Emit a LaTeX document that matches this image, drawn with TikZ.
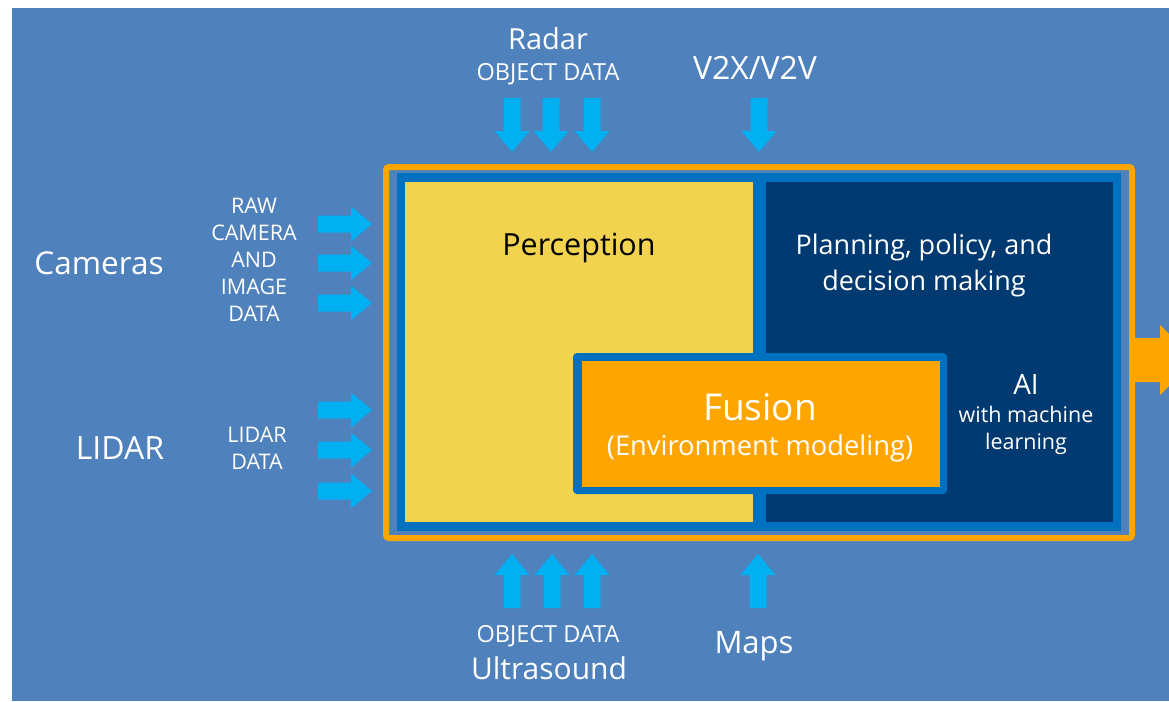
\documentclass[tikz,border=0pt]{standalone}
\usepackage{fontspec}
\setmainfont{Open Sans}
\definecolor{bgblue}{HTML}{4F81BD}
\definecolor{frameblue}{HTML}{0070C0}
\definecolor{navy}{HTML}{003A70}
\definecolor{percyellow}{HTML}{F2D34F}
\definecolor{fuseorange}{HTML}{FFA500}
\definecolor{feedblue}{HTML}{00B0F0}
% font size and line distance, in pt
\newcommand{\fsz}[2]{\fontsize{#1}{#2}\selectfont}
\tikzset{
  panel/.style={inner sep=0pt, outer sep=0pt},
  label/.style={text=white, inner sep=0pt},
  pics/feed/.style={code={
    \fill[feedblue] (0,-8.5) -- (33,-8.5) -- (33,-17.5) -- (54,0)
      -- (33,17.5) -- (33,8.5) -- (0,8.5) -- cycle;}}
}
\begin{document}
\begin{tikzpicture}[x=1pt,y=-1pt]
\useasboundingbox (0,0) rectangle (1169,701);
\clip (0,0) rectangle (1169,701);
\fill[white] (0,0) rectangle (1169,701);
\fill[bgblue] (12,8) rectangle (1169,701);

% output arrow leaving the processing block
\coordinate (outtail) at (1130,360);
\fill[fuseorange] (outtail) ++(0,-22) -- ++(30,0) -- ++(0,-13) -- ++(35,35)
  -- ++(-35,35) -- ++(0,-13) -- ++(-30,0) -- cycle;

% processing block
\node[panel, draw=fuseorange, line width=6pt, rounded corners=3pt,
      minimum width=746pt, minimum height=371pt] (outer) at (759,352.5) {};
\node[panel, fill=frameblue, minimum width=724pt, minimum height=358pt]
      (frame) at (759,352) {};
\node[panel, fill=percyellow, minimum width=348pt, minimum height=340pt]
      (perc) at (579,352) {};
\node[panel, fill=navy, minimum width=347pt, minimum height=340pt]
      (plan) at (939.5,352) {};
\node[panel, fill=frameblue, rounded corners=4pt, minimum width=374pt,
      minimum height=141pt] (fusframe) at (760,423.5) {};
\node[panel, fill=fuseorange, minimum width=358pt, minimum height=126pt]
      (fusion) at (761,424) {};

% block texts
\node[inner sep=0pt, anchor=base, font=\fsz{30.5}{36}] (perct) at (579,255) {Perception};
\node[label, align=center, font=\fsz{27}{36}] (plant) at (924,265)
  {Planning, policy, and\\decision making};
\node[label, anchor=base, font=\fsz{37}{44}] (fust) at (760,420) {Fusion};
\node[label, anchor=base, font=\fsz{27.3}{33}] (envt) at (760,455) {(Environment modeling)};
\node[label, anchor=base, font=\fsz{28}{34}] (ait) at (1026,394) {AI};
\node[label, align=center, font=\fsz{21.5}{27}] (mlt) at (1026,430.5)
  {with machine\\learning};

% sources
\node[label, anchor=base, font=\fsz{31.5}{38}] (cam) at (99,274) {Cameras};
\node[label, anchor=base, font=\fsz{32}{38}] (lidar) at (120,459) {LIDAR};
\node[label, align=center, font=\fsz{21.5}{27}] (camdata) at (254,260)
  {RAW\\CAMERA\\AND\\IMAGE\\DATA};
\node[label, align=center, font=\fsz{21.5}{27}] (lidardata) at (257,448.5)
  {LIDAR\\DATA};
\node[label, anchor=base, font=\fsz{29}{35}] (radar) at (548,49) {Radar};
\node[label, anchor=base, font=\fsz{23.5}{28}] (radardata) at (548,81) {OBJECT DATA};
\node[label, anchor=base, font=\fsz{32}{38}] (v2x) at (755,79) {V2X/V2V};
\node[label, anchor=base, font=\fsz{23.5}{28}] (usdata) at (548,642) {OBJECT DATA};
\node[label, anchor=base, font=\fsz{30}{36}] (us) at (549,679) {Ultrasound};
\node[label, anchor=base, font=\fsz{31}{37}] (maps) at (754,653) {Maps};

% incoming data arrows
\pic (cam1) at (318,224) {feed};
\pic (cam2) at (318,263) {feed};
\pic (cam3) at (318,303) {feed};
\pic (lid1) at (318,410) {feed};
\pic (lid2) at (318,450) {feed};
\pic (lid3) at (318,491) {feed};
\pic[rotate=-90] (rad1) at (512,98) {feed};
\pic[rotate=-90] (rad2) at (551,98) {feed};
\pic[rotate=-90] (rad3) at (592,98) {feed};
\pic[rotate=-90] (v2xa) at (759,98) {feed};
\pic[rotate=90] (us1) at (512,608) {feed};
\pic[rotate=90] (us2) at (552,608) {feed};
\pic[rotate=90] (us3) at (592,608) {feed};
\pic[rotate=90] (mapa) at (758,608) {feed};
\end{tikzpicture}
\end{document}
